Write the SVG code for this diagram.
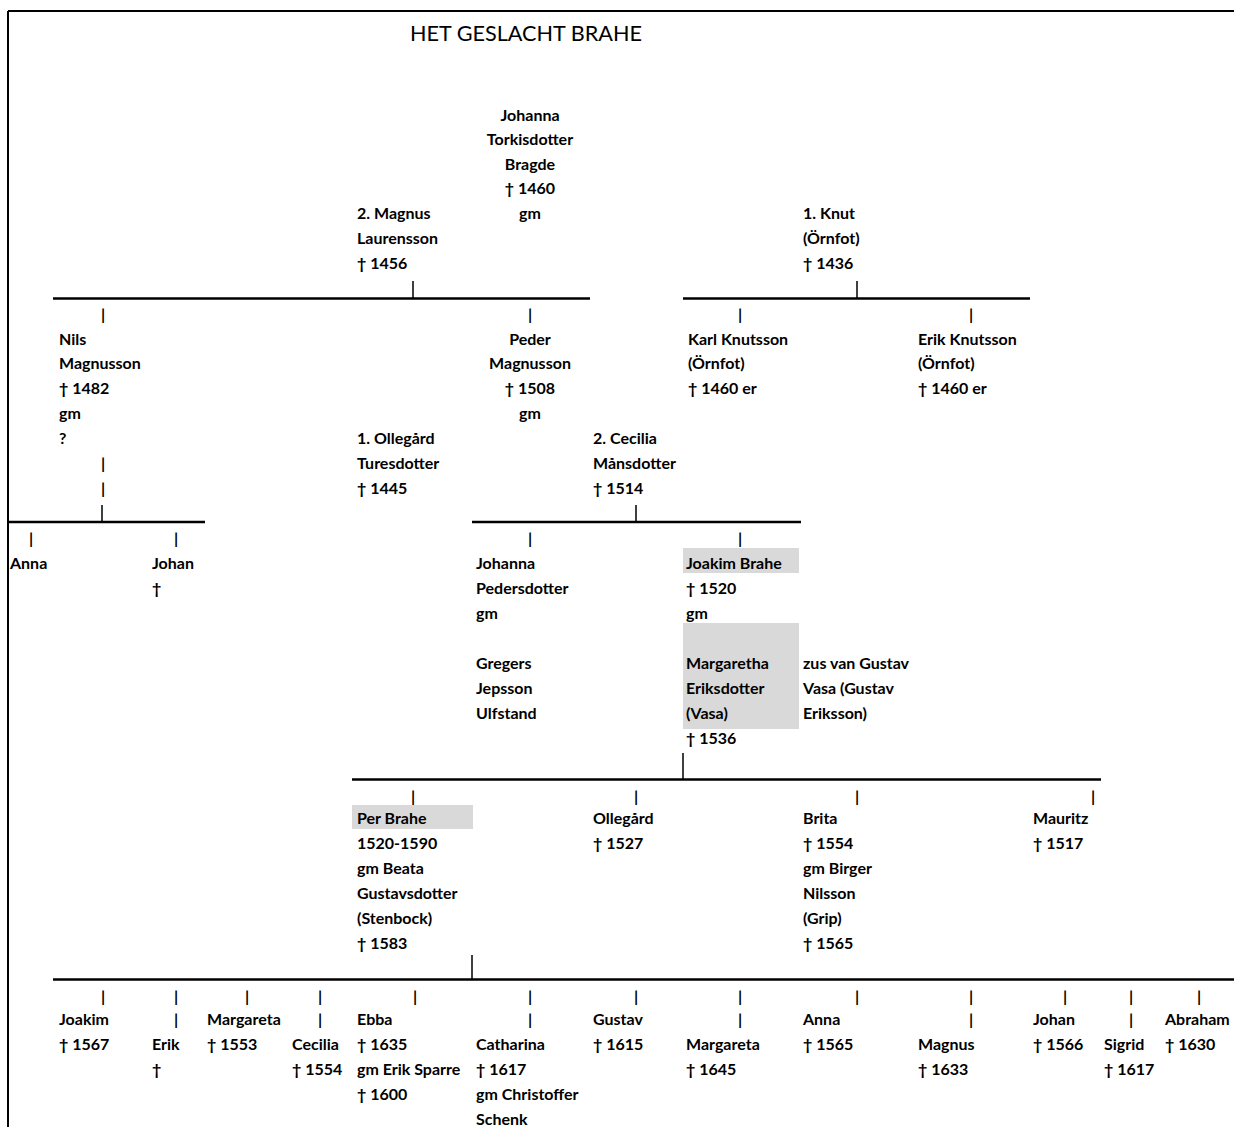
<svg xmlns="http://www.w3.org/2000/svg" width="1234" height="1127" viewBox="0 0 1234 1127">
<style>
.t{font-family:Lato,"Liberation Sans",sans-serif;font-weight:bold;font-size:16px;fill:#000}
.m{text-anchor:middle}
.title{font-family:Lato,"Liberation Sans",sans-serif;font-size:22px;fill:#000}
.h{stroke:#000;stroke-width:2.5;fill:none}
.v{stroke:#000;stroke-width:1.5;fill:none}
.hl{fill:#d9d9d9}
.p{font-family:Lato,"Liberation Sans",sans-serif;font-weight:bold;font-size:16px;fill:#000;text-anchor:middle}
</style>
<rect width="1234" height="1127" fill="#fff"/>
<g id="frame">
<line x1="8" y1="11" x2="1234" y2="11" stroke="#000" stroke-width="2"/>
<line x1="8" y1="11" x2="8" y2="1127" stroke="#000" stroke-width="2"/>
</g>
<text class="title" x="410" y="41" textLength="232" lengthAdjust="spacingAndGlyphs">HET GESLACHT BRAHE</text>

<g id="connectors">
<line class="h" x1="53" y1="298.5" x2="590" y2="298.5"/>
<line class="h" x1="683" y1="298.5" x2="1030" y2="298.5"/>
<line class="h" x1="8" y1="522" x2="205" y2="522"/>
<line class="h" x1="472" y1="522" x2="801" y2="522"/>
<line class="h" x1="352" y1="779.5" x2="1101" y2="779.5"/>
<line class="h" x1="53" y1="979.5" x2="1234" y2="979.5"/>
<line class="v" x1="413" y1="281" x2="413" y2="298"/>
<line class="v" x1="857" y1="281" x2="857" y2="298"/>
<line class="v" x1="102" y1="505" x2="102" y2="522"/>
<line class="v" x1="636" y1="505" x2="636" y2="522"/>
<line class="v" x1="683" y1="753" x2="683" y2="779"/>
<line class="v" x1="472" y1="955" x2="472" y2="979"/>
<g id="pipes">
<text class="p" x="103" y="320">|</text><text class="p" x="530" y="320">|</text><text class="p" x="740" y="320">|</text><text class="p" x="971" y="320">|</text>
<text class="p" x="103" y="469">|</text><text class="p" x="103" y="494">|</text>
<text class="p" x="31" y="544">|</text><text class="p" x="176" y="544">|</text><text class="p" x="530" y="544">|</text><text class="p" x="740" y="544">|</text>
<text class="p" x="413" y="802">|</text><text class="p" x="636" y="802">|</text><text class="p" x="857" y="802">|</text><text class="p" x="1093" y="802">|</text>
<text class="p" x="103" y="1002">|</text><text class="p" x="176" y="1002">|</text><text class="p" x="247" y="1002">|</text><text class="p" x="320" y="1002">|</text><text class="p" x="415" y="1002">|</text><text class="p" x="530" y="1002">|</text><text class="p" x="636" y="1002">|</text><text class="p" x="740" y="1002">|</text><text class="p" x="857" y="1002">|</text><text class="p" x="971" y="1002">|</text><text class="p" x="1065" y="1002">|</text><text class="p" x="1131" y="1002">|</text><text class="p" x="1199" y="1002">|</text>
<text class="p" x="176" y="1025">|</text><text class="p" x="320" y="1025">|</text><text class="p" x="530" y="1025">|</text><text class="p" x="740" y="1025">|</text><text class="p" x="971" y="1025">|</text><text class="p" x="1131" y="1025">|</text>
</g>
</g>

<g id="johanna-torkisdotter"><text class="t m"><tspan x="530" y="121">Johanna</tspan><tspan x="530" y="145">Torkisdotter</tspan><tspan x="530" y="170">Bragde</tspan><tspan x="530" y="194">† 1460</tspan><tspan x="530" y="219">gm</tspan></text></g>
<g id="magnus-laurensson"><text class="t"><tspan x="357" y="219">2. Magnus</tspan><tspan x="357" y="244">Laurensson</tspan><tspan x="357" y="269">† 1456</tspan></text></g>
<g id="knut"><text class="t"><tspan x="803" y="219">1. Knut</tspan><tspan x="803" y="244">(Örnfot)</tspan><tspan x="803" y="269">† 1436</tspan></text></g>

<g id="nils-magnusson"><text class="t"><tspan x="59" y="345">Nils</tspan><tspan x="59" y="369">Magnusson</tspan><tspan x="59" y="394">† 1482</tspan><tspan x="59" y="419">gm</tspan><tspan x="59" y="444">?</tspan></text></g>
<g id="peder-magnusson"><text class="t m"><tspan x="530" y="345">Peder</tspan><tspan x="530" y="369">Magnusson</tspan><tspan x="530" y="394">† 1508</tspan><tspan x="530" y="419">gm</tspan></text></g>
<g id="karl-knutsson"><text class="t"><tspan x="688" y="345">Karl Knutsson</tspan><tspan x="688" y="369">(Örnfot)</tspan><tspan x="688" y="394">† 1460 er</tspan></text></g>
<g id="erik-knutsson"><text class="t"><tspan x="918" y="345">Erik Knutsson</tspan><tspan x="918" y="369">(Örnfot)</tspan><tspan x="918" y="394">† 1460 er</tspan></text></g>

<g id="ollegard-turesdotter"><text class="t"><tspan x="357" y="444">1. Ollegård</tspan><tspan x="357" y="469">Turesdotter</tspan><tspan x="357" y="494">† 1445</tspan></text></g>
<g id="cecilia-mansdotter"><text class="t"><tspan x="593" y="444">2. Cecilia</tspan><tspan x="593" y="469">Månsdotter</tspan><tspan x="593" y="494">† 1514</tspan></text></g>

<g id="anna-1"><text class="t" x="10" y="569">Anna</text></g>
<g id="johan-1"><text class="t"><tspan x="152" y="569">Johan</tspan><tspan x="152" y="594">†</tspan></text></g>
<g id="johanna-pedersdotter"><text class="t"><tspan x="476" y="569">Johanna</tspan><tspan x="476" y="594">Pedersdotter</tspan><tspan x="476" y="619">gm</tspan><tspan x="476" y="669">Gregers</tspan><tspan x="476" y="694">Jepsson</tspan><tspan x="476" y="719">Ulfstand</tspan></text></g>
<g id="joakim-brahe">
<rect class="hl" x="683" y="548" width="116" height="25"/>
<rect class="hl" x="683" y="623" width="116" height="106"/>
<text class="t"><tspan x="686" y="569">Joakim Brahe</tspan><tspan x="686" y="594">† 1520</tspan><tspan x="686" y="619">gm</tspan><tspan x="686" y="669">Margaretha</tspan><tspan x="686" y="694">Eriksdotter</tspan><tspan x="686" y="719">(Vasa)</tspan><tspan x="686" y="744">† 1536</tspan></text>
<text class="t"><tspan x="803" y="669">zus van Gustav</tspan><tspan x="803" y="694">Vasa (Gustav</tspan><tspan x="803" y="719">Eriksson)</tspan></text>
</g>

<g id="per-brahe">
<rect class="hl" x="352" y="805" width="121" height="24"/>
<text class="t"><tspan x="357" y="824">Per Brahe</tspan><tspan x="357" y="849">1520-1590</tspan><tspan x="357" y="874">gm Beata</tspan><tspan x="357" y="899">Gustavsdotter</tspan><tspan x="357" y="924">(Stenbock)</tspan><tspan x="357" y="949">† 1583</tspan></text>
</g>
<g id="ollegard"><text class="t"><tspan x="593" y="824">Ollegård</tspan><tspan x="593" y="849">† 1527</tspan></text></g>
<g id="brita"><text class="t"><tspan x="803" y="824">Brita</tspan><tspan x="803" y="849">† 1554</tspan><tspan x="803" y="874">gm Birger</tspan><tspan x="803" y="899">Nilsson</tspan><tspan x="803" y="924">(Grip)</tspan><tspan x="803" y="949">† 1565</tspan></text></g>
<g id="mauritz"><text class="t"><tspan x="1033" y="824">Mauritz</tspan><tspan x="1033" y="849">† 1517</tspan></text></g>

<g id="joakim"><text class="t"><tspan x="59" y="1025">Joakim</tspan><tspan x="59" y="1050">† 1567</tspan></text></g>
<g id="erik"><text class="t"><tspan x="152" y="1050">Erik</tspan><tspan x="152" y="1075">†</tspan></text></g>
<g id="margareta-1"><text class="t"><tspan x="207" y="1025">Margareta</tspan><tspan x="207" y="1050">† 1553</tspan></text></g>
<g id="cecilia"><text class="t"><tspan x="292" y="1050">Cecilia</tspan><tspan x="292" y="1075">† 1554</tspan></text></g>
<g id="ebba"><text class="t"><tspan x="357" y="1025">Ebba</tspan><tspan x="357" y="1050">† 1635</tspan><tspan x="357" y="1075">gm Erik Sparre</tspan><tspan x="357" y="1100">† 1600</tspan></text></g>
<g id="catharina"><text class="t"><tspan x="476" y="1050">Catharina</tspan><tspan x="476" y="1075">† 1617</tspan><tspan x="476" y="1100">gm Christoffer</tspan><tspan x="476" y="1125">Schenk</tspan></text></g>
<g id="gustav"><text class="t"><tspan x="593" y="1025">Gustav</tspan><tspan x="593" y="1050">† 1615</tspan></text></g>
<g id="margareta-2"><text class="t"><tspan x="686" y="1050">Margareta</tspan><tspan x="686" y="1075">† 1645</tspan></text></g>
<g id="anna-2"><text class="t"><tspan x="803" y="1025">Anna</tspan><tspan x="803" y="1050">† 1565</tspan></text></g>
<g id="magnus"><text class="t"><tspan x="918" y="1050">Magnus</tspan><tspan x="918" y="1075">† 1633</tspan></text></g>
<g id="johan-2"><text class="t"><tspan x="1033" y="1025">Johan</tspan><tspan x="1033" y="1050">† 1566</tspan></text></g>
<g id="sigrid"><text class="t"><tspan x="1104" y="1050">Sigrid</tspan><tspan x="1104" y="1075">† 1617</tspan></text></g>
<g id="abraham"><text class="t"><tspan x="1165" y="1025">Abraham</tspan><tspan x="1165" y="1050">† 1630</tspan></text></g>
</svg>
